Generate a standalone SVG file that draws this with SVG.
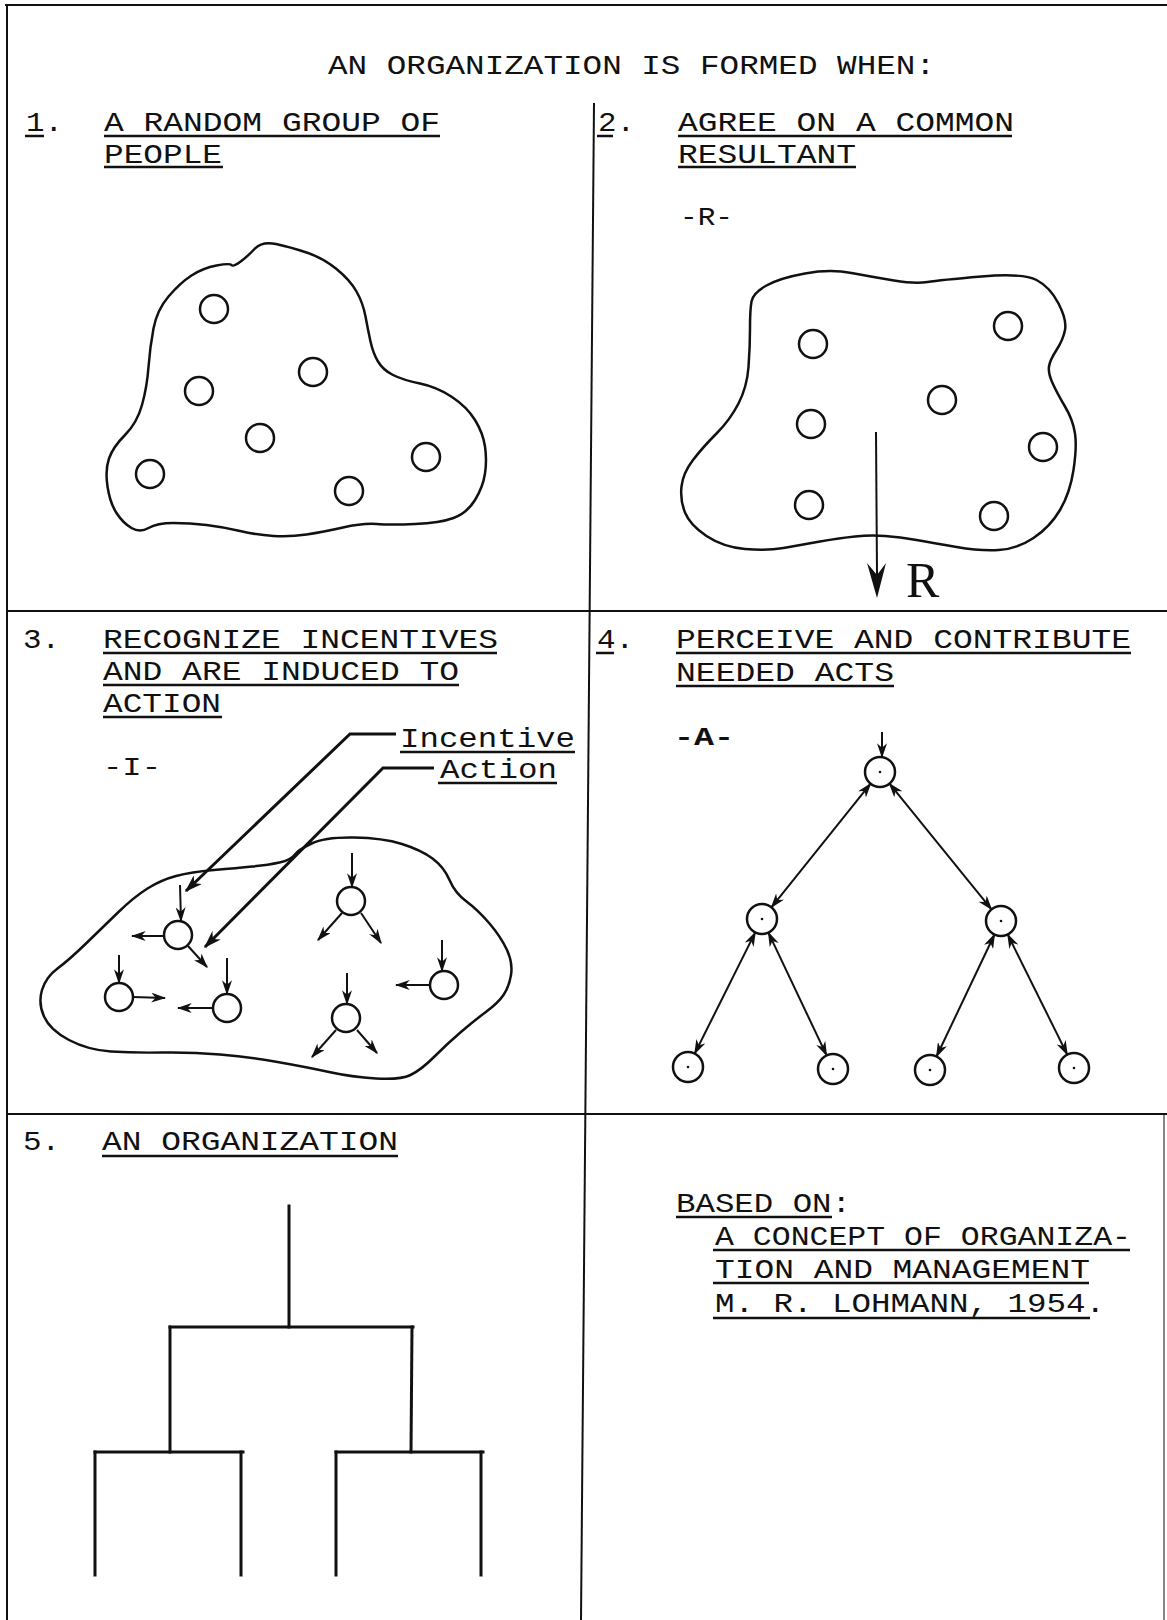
<svg xmlns="http://www.w3.org/2000/svg" width="1167" height="1620" viewBox="0 0 1167 1620">
<defs>
<style>
.t{font-family:"Liberation Mono","Courier New",monospace;font-size:28px;fill:#111}
.lb{font-family:"Liberation Mono","Courier New",monospace;font-size:27px;fill:#111}
.s{font-family:"Liberation Mono","Courier New",monospace;font-size:26px;fill:#111}
.big{font-family:"Liberation Serif","Times New Roman",serif;font-size:50px;fill:#111}
.ul{stroke:#111;stroke-width:2.5;fill:none}
.frame{stroke:#111;stroke-width:2;fill:none}
.blob{stroke:#111;stroke-width:2.5;fill:none;stroke-linejoin:round}
.c{stroke:#111;stroke-width:2.5;fill:#fff}
.ar{stroke:#111;stroke-width:2;fill:none}
.ld{stroke:#111;stroke-width:3;fill:none}
.tree{stroke:#111;stroke-width:3;fill:none;stroke-linecap:square}
.dot{fill:#111}
</style>
<marker id="ah" viewBox="0 0 12 8" refX="11" refY="4" markerWidth="15" markerHeight="10" markerUnits="userSpaceOnUse" orient="auto-start-reverse"><path d="M0,0 L12,4 L0,8 L3.5,4 Z" fill="#111"/></marker>
<marker id="ahL" viewBox="0 0 12 8" refX="11" refY="4" markerWidth="19" markerHeight="12" markerUnits="userSpaceOnUse" orient="auto"><path d="M0,0 L12,4 L0,8 L3.5,4 Z" fill="#111"/></marker>
</defs>
<rect x="0" y="0" width="1167" height="1620" fill="#fff"/>

<g id="frame" class="frame">
<line x1="5" y1="5" x2="1167" y2="5"/>
<line x1="7" y1="5" x2="7" y2="1620"/>
<line x1="594" y1="103" x2="581" y2="1620"/>
<line x1="7" y1="611" x2="1167" y2="611"/>
<line x1="7" y1="1114" x2="1167" y2="1114"/>
<line x1="1164" y1="1114" x2="1164" y2="1620" stroke-width="1"/>
</g>

<g id="title">
<text class="t" x="328" y="74" textLength="607" lengthAdjust="spacingAndGlyphs">AN ORGANIZATION IS FORMED WHEN:</text>
</g>

<g id="panel1">
<text class="t" x="26" y="131" textLength="37" lengthAdjust="spacingAndGlyphs">1.</text>
<line class="ul" x1="25" y1="136" x2="44" y2="136"/>
<text class="t" x="104" y="131" textLength="336" lengthAdjust="spacingAndGlyphs">A RANDOM GROUP OF</text>
<text class="t" x="104" y="163" textLength="118" lengthAdjust="spacingAndGlyphs">PEOPLE</text>
<line class="ul" x1="104" y1="136" x2="440" y2="136"/>
<line class="ul" x1="104" y1="167" x2="223" y2="167"/>
<path class="blob" d="M254.5,249 Q262,241 276,244 Q290,247 306.5,252.5 Q323,258 336.5,269 Q350,280 356.5,291.5 Q363,303 365.5,316.5 Q368,330 370.5,341.5 Q373,353 378,361.5 Q383,370 393,375 Q403,380 420,383.5 Q437,387 452,397 Q467,407 475,420 Q483,433 485,446.5 Q487,460 485,473.5 Q483,487 475,500 Q467,513 453.5,518 Q440,523 415,524 Q390,525 376.5,524 Q363,523 343,527.5 Q323,532 306.5,534.5 Q290,537 273.5,536 Q257,535 240,531 Q223,527 206.5,525 Q190,523 173.5,523 Q157,523 148.5,528 Q140,533 131.5,528 Q123,523 116.5,513 Q110,503 107.5,486.5 Q105,470 109,458.5 Q113,447 125,435 Q137,423 142,405 Q147,387 148.5,367 Q150,347 153.5,328.5 Q157,310 168.5,296.5 Q180,283 191.5,275.5 Q203,268 216.5,265.5 Q230,263 231.5,265 Q233,267 240,262 Q247,257 254.5,249 Z"/>
<circle class="c" cx="214" cy="309" r="14"/>
<circle class="c" cx="313" cy="372" r="14"/>
<circle class="c" cx="199" cy="391" r="14"/>
<circle class="c" cx="260" cy="438" r="14"/>
<circle class="c" cx="150" cy="474" r="14"/>
<circle class="c" cx="426" cy="457" r="14"/>
<circle class="c" cx="349" cy="491" r="14"/>
</g>

<g id="panel2">
<text class="t" x="598" y="131" textLength="37" lengthAdjust="spacingAndGlyphs">2.</text>
<line class="ul" x1="597" y1="136" x2="613" y2="136"/>
<text class="t" x="678" y="131" textLength="336" lengthAdjust="spacingAndGlyphs">AGREE ON A COMMON</text>
<text class="t" x="678" y="163" textLength="178" lengthAdjust="spacingAndGlyphs">RESULTANT</text>
<line class="ul" x1="678" y1="136" x2="1012" y2="136"/>
<line class="ul" x1="678" y1="167" x2="856" y2="167"/>
<text class="s" x="680" y="225" textLength="53" lengthAdjust="spacingAndGlyphs">-R-</text>
<path class="blob" d="M750,328.5 Q750,310 751.5,301.5 Q753,293 766.5,285.5 Q780,278 805,273.5 Q830,269 851.5,273 Q873,277 894,280.5 Q915,284 927.5,282 Q940,280 981.5,276.5 Q1023,273 1036.5,280 Q1050,287 1058.5,303.5 Q1067,320 1065,330 Q1063,340 1056.5,350 Q1050,360 1049,366.5 Q1048,373 1052.5,383 Q1057,393 1065,406.5 Q1073,420 1075,433.5 Q1077,447 1073.5,470 Q1070,493 1060,510 Q1050,527 1033.5,538 Q1017,549 998.5,550 Q980,551 956.5,547 Q933,543 916.5,540 Q900,537 885,536 Q870,535 855,536.5 Q840,538 820,541.5 Q800,545 783.5,548 Q767,551 745,549 Q723,547 706.5,536 Q690,525 685,512.5 Q680,500 681.5,486.5 Q683,473 693,460 Q703,447 716.5,433.5 Q730,420 738.5,403.5 Q747,387 748.5,367 Q750,347 750,328.5 Z"/>
<circle class="c" cx="813" cy="344" r="14"/>
<circle class="c" cx="1008" cy="326" r="14"/>
<circle class="c" cx="942" cy="400" r="14"/>
<circle class="c" cx="811" cy="424" r="14"/>
<circle class="c" cx="1043" cy="447" r="14"/>
<circle class="c" cx="809" cy="505" r="14"/>
<circle class="c" cx="994" cy="516" r="14"/>
<line class="ar" x1="876" y1="432" x2="877" y2="575"/>
<path d="M867,563 L877,598 L886,563 L877,575 Z" fill="#111"/>
<text class="big" x="906" y="597">R</text>
</g>

<g id="panel3">
<text class="t" x="23" y="648" textLength="37" lengthAdjust="spacingAndGlyphs">3.</text>
<text class="t" x="103" y="648" textLength="395" lengthAdjust="spacingAndGlyphs">RECOGNIZE INCENTIVES</text>
<text class="t" x="103" y="680" textLength="356" lengthAdjust="spacingAndGlyphs">AND ARE INDUCED TO</text>
<text class="t" x="103" y="712" textLength="118" lengthAdjust="spacingAndGlyphs">ACTION</text>
<line class="ul" x1="103" y1="653" x2="497" y2="653"/>
<line class="ul" x1="103" y1="685" x2="459" y2="685"/>
<line class="ul" x1="103" y1="717" x2="222" y2="717"/>
<text class="s" x="103" y="775" textLength="58" lengthAdjust="spacingAndGlyphs">-I-</text>
<text class="lb" x="400" y="747" textLength="175" lengthAdjust="spacingAndGlyphs">Incentive</text>
<line class="ul" x1="400" y1="752" x2="575" y2="752"/>
<text class="lb" x="440" y="778" textLength="117" lengthAdjust="spacingAndGlyphs">Action</text>
<line class="ul" x1="438" y1="783" x2="557" y2="783"/>
<path class="blob" d="M294.5,855 Q298,850 311.5,843.5 Q325,837 354,837.5 Q383,838 402,844 Q421,850 432.5,858.5 Q444,867 449.5,880 Q455,893 466.5,901.5 Q478,910 489.5,923.5 Q501,937 507,950 Q513,963 511,975 Q509,987 503.5,995 Q498,1003 486.5,1011.5 Q475,1020 461.5,1031.5 Q448,1043 434.5,1056.5 Q421,1070 410.5,1075 Q400,1080 376,1078.5 Q352,1077 329,1072 Q306,1067 277.5,1062 Q249,1057 220,1054.5 Q191,1052 162.5,1052.5 Q134,1053 111,1051.5 Q88,1050 69,1040 Q50,1030 44,1016.5 Q38,1003 42,990 Q46,977 57.5,968.5 Q69,960 86,943.5 Q103,927 118.5,912 Q134,897 147.5,888.5 Q161,880 176,876 Q191,872 214,870 Q237,868 252.5,866.5 Q268,865 279.5,862.5 Q291,860 294.5,855 Z"/>
<circle class="c" cx="178" cy="935" r="14"/>
<circle class="c" cx="119" cy="997" r="14"/>
<circle class="c" cx="227" cy="1008" r="14"/>
<circle class="c" cx="351" cy="901" r="14"/>
<circle class="c" cx="346" cy="1018" r="14"/>
<circle class="c" cx="444" cy="985" r="14"/>
</g>

<g id="panel4">
<text class="t" x="597" y="648" textLength="37" lengthAdjust="spacingAndGlyphs">4.</text>
<line class="ul" x1="596" y1="653" x2="614" y2="653"/>
<text class="t" x="676" y="648" textLength="455" lengthAdjust="spacingAndGlyphs">PERCEIVE AND CONTRIBUTE</text>
<text class="t" x="676" y="681" textLength="218" lengthAdjust="spacingAndGlyphs">NEEDED ACTS</text>
<line class="ul" x1="676" y1="653" x2="1131" y2="653"/>
<line class="ul" x1="676" y1="686" x2="894" y2="686"/>
<text class="s" x="674" y="745" textLength="60" lengthAdjust="spacingAndGlyphs" font-weight="bold">-A-</text>
<circle class="c" cx="880" cy="772" r="15"/>
<circle class="c" cx="762" cy="919" r="15"/>
<circle class="c" cx="1001" cy="921" r="15"/>
<circle class="c" cx="688" cy="1067" r="15"/>
<circle class="c" cx="833" cy="1069" r="15"/>
<circle class="c" cx="930" cy="1070" r="15"/>
<circle class="c" cx="1074" cy="1068" r="15"/>
<g class="dot">
<circle cx="880" cy="772" r="1.3"/>
<circle cx="762" cy="919" r="1.3"/>
<circle cx="1001" cy="921" r="1.3"/>
<circle cx="688" cy="1067" r="1.3"/>
<circle cx="833" cy="1069" r="1.3"/>
<circle cx="930" cy="1070" r="1.3"/>
<circle cx="1074" cy="1068" r="1.3"/>
</g>
</g>

<g id="panel5">
<text class="t" x="23" y="1150" textLength="37" lengthAdjust="spacingAndGlyphs">5.</text>
<text class="t" x="102" y="1150" textLength="296" lengthAdjust="spacingAndGlyphs">AN ORGANIZATION</text>
<line class="ul" x1="102" y1="1156" x2="398" y2="1156"/>
</g>

<g id="source">
<text class="t" x="676" y="1212" textLength="175" lengthAdjust="spacingAndGlyphs">BASED ON:</text>
<text class="t" x="715" y="1245" textLength="416" lengthAdjust="spacingAndGlyphs">A CONCEPT OF ORGANIZA-</text>
<text class="t" x="715" y="1278" textLength="375" lengthAdjust="spacingAndGlyphs">TION AND MANAGEMENT</text>
<text class="t" x="715" y="1312" textLength="390" lengthAdjust="spacingAndGlyphs">M. R. LOHMANN, 1954.</text>
<line class="ul" x1="676" y1="1217" x2="832" y2="1217"/>
<line class="ul" x1="713" y1="1250" x2="1130" y2="1250"/>
<line class="ul" x1="713" y1="1283" x2="1089" y2="1283"/>
<line class="ul" x1="713" y1="1318" x2="1090" y2="1318"/>
</g>

<g id="connectors">
<polyline class="ld" points="396,734 350,734 186,891" marker-end="url(#ahL)"/>
<polyline class="ld" points="434,768 383,768 205,947" marker-end="url(#ahL)"/>
<g class="ar" marker-end="url(#ah)">
<line x1="180" y1="885" x2="181" y2="921"/>
<line x1="164" y1="936" x2="132" y2="936"/>
<line x1="188" y1="946" x2="207" y2="967"/>
<line x1="119" y1="955" x2="119" y2="983"/>
<line x1="133" y1="997" x2="165" y2="998"/>
<line x1="227" y1="958" x2="227" y2="994"/>
<line x1="213" y1="1008" x2="178" y2="1008"/>
<line x1="352" y1="853" x2="352" y2="887"/>
<line x1="342" y1="913" x2="318" y2="940"/>
<line x1="361" y1="913" x2="381" y2="943"/>
<line x1="347" y1="973" x2="347" y2="1004"/>
<line x1="336" y1="1030" x2="312" y2="1057"/>
<line x1="357" y1="1030" x2="377" y2="1053"/>
<line x1="442" y1="940" x2="442" y2="971"/>
<line x1="430" y1="985" x2="396" y2="985"/>
<line x1="882" y1="732" x2="882" y2="757"/>
</g>
<g class="ar" marker-start="url(#ah)" marker-end="url(#ah)">
<line x1="870.6" y1="783.7" x2="771.4" y2="907.3"/>
<line x1="889.5" y1="783.6" x2="991.5" y2="909.4"/>
<line x1="755.3" y1="932.4" x2="694.7" y2="1053.6"/>
<line x1="768.4" y1="932.6" x2="826.6" y2="1055.4"/>
<line x1="994.5" y1="934.5" x2="936.5" y2="1056.5"/>
<line x1="1007.7" y1="934.4" x2="1067.3" y2="1054.6"/>
</g>
<g class="tree">
<line x1="289" y1="1206" x2="289" y2="1327"/>
<line x1="170" y1="1327" x2="413" y2="1327"/>
<line x1="170" y1="1327" x2="170" y2="1452"/>
<line x1="412" y1="1327" x2="411" y2="1452"/>
<line x1="95" y1="1452" x2="243" y2="1452"/>
<line x1="336" y1="1452" x2="483" y2="1452"/>
<line x1="95" y1="1452" x2="95" y2="1575"/>
<line x1="241" y1="1452" x2="241" y2="1575"/>
<line x1="336" y1="1452" x2="336" y2="1575"/>
<line x1="481" y1="1452" x2="481" y2="1575"/>
</g>
</g>
</svg>
